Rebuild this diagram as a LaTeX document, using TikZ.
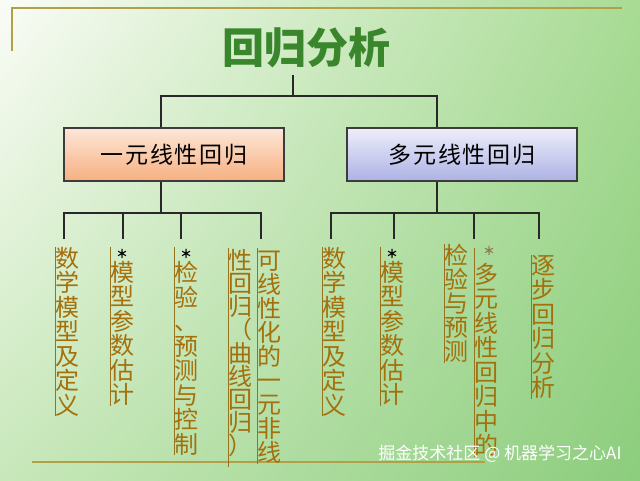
\documentclass[tikz,border=0pt]{standalone}
\usepackage{fontspec}
\usepackage{tikz}
\usetikzlibrary{shadings}
\newfontfamily\cjk{Noto Sans CJK SC}
\newfontfamily\cjkwide[LetterSpace=8]{Noto Sans CJK SC}
\definecolor{bgul}{RGB}{250,252,246}
\definecolor{bgur}{RGB}{168,219,148}
\definecolor{bgll}{RGB}{200,232,186}
\definecolor{bglr}{RGB}{140,205,125}
\definecolor{titlegreen}{RGB}{58,134,44}
\definecolor{treegray}{RGB}{40,40,40}
\definecolor{boxgray}{RGB}{60,60,60}
\definecolor{colgold}{RGB}{165,112,12}
\definecolor{bargold}{RGB}{150,115,30}
\definecolor{rulegold}{RGB}{178,160,72}
\begin{document}
\begin{tikzpicture}[x=1pt,y=-1pt,
    branch/.style={draw=treegray, line width=1.3pt},
    headbox/.style={draw=boxgray, line width=1.1pt, minimum height=53pt,
        font=\cjkwide\fontsize{23}{23}\selectfont},
    vcol/.style={anchor=north west, inner sep=0pt, text width=24pt, align=center,
        text=colgold, font=\cjk\fontsize{24}{24.5}\selectfont},
    vbar/.style={draw=bargold, line width=0.9pt},
    starmark/.style={inner sep=0pt, font=\cjk\bfseries\fontsize{12}{12}\selectfont},
    rule/.style={draw=rulegold, line width=1.6pt}]
    % background
    \useasboundingbox (0,0) rectangle (640,480);
    \shade[upper left=bgul, upper right=bgur, lower left=bgll, lower right=bglr] (0,0) rectangle (640,480);
    \draw[rule] (12,51) -- (12,8) -- (622,8);
    \draw[rule] (32,462) -- (485,462);
    % title and the two kinds
    \node[text=titlegreen, font=\cjk\bfseries\fontsize{42}{42}\selectfont] (title) at (306,48) {回归分析};
    \node[headbox, minimum width=220pt, top color={rgb,255:red,253;green,230;blue,216},
        middle color={rgb,255:red,244;green,160;blue,106}, bottom color={rgb,255:red,246;green,176;blue,128}]
        (uni) at (174,154.5) {一元线性回归};
    \node[headbox, minimum width=230pt, top color={rgb,255:red,238;green,238;blue,250},
        middle color={rgb,255:red,190;green,194;blue,236}, bottom color={rgb,255:red,172;green,178;blue,228}]
        (multi) at (462,154.5) {多元线性回归};
    \coordinate (root) at (293,75);
    \coordinate (bus) at (293,96);
    \coordinate (k1) at (161,0);
    \coordinate (k2) at (437,0);
    \draw[branch] (root) -- (bus);
    \draw[branch] (uni.north -| k1) -- (k1 |- bus) -- (k2 |- bus) -- (multi.north -| k2);
    % leaves of the first kind
    \coordinate (ubus) at (161,213);
    \coordinate (u1) at (64,239);
    \coordinate (u2) at (123,239);
    \coordinate (u3) at (181,239);
    \coordinate (u4) at (261,239);
    \draw[branch] (uni.south -| k1) -- (ubus);
    \draw[branch] (u1) -- (u1 |- ubus) -- (u4 |- ubus) -- (u4);
    \draw[branch] (u2) -- (u2 |- ubus);
    \draw[branch] (u3) -- (u3 |- ubus);
    % leaves of the second kind
    \coordinate (mbus) at (437,213);
    \coordinate (v1) at (331,239);
    \coordinate (v2) at (394,239);
    \coordinate (v3) at (474,239);
    \coordinate (v4) at (539,239);
    \draw[branch] (multi.south -| k2) -- (mbus);
    \draw[branch] (v1) -- (v1 |- mbus) -- (v4 |- mbus) -- (v4);
    \draw[branch] (v2) -- (v2 |- mbus);
    \draw[branch] (v3) -- (v3 |- mbus);
    % columns, first kind
    \node[vcol] (a1) at (55,247) {数\\学\\模\\型\\及\\定\\义};
    \draw[vbar] (a1.north west) -- (a1.south west);
    \node[starmark] (s2) at (122,254) {＊};
    \node[vcol] (a2) at (110,261) {模\\型\\参\\数\\估\\计};
    \draw[vbar] ([yshift=14pt]a2.north west) -- (a2.south west);
    \node[starmark] (s3) at (186,254) {＊};
    \node[vcol] (a3) at (174,261) {检\\验\\、\\预\\测\\与\\控\\制};
    \draw[vbar] ([yshift=14pt]a3.north west) -- (a3.south west);
    \node[vcol, font=\cjk\fontsize{24}{23.2}\selectfont] (a4) at (228,249) {性\\回\\归\\（\\曲\\线\\回\\归\\）};
    \draw[vbar] ([yshift=1pt]a4.north west) -- ([yshift=-10pt]a4.south west);
    \node[vcol, font=\cjk\fontsize{24}{24}\selectfont] (a5) at (257,251) {可\\线\\性\\化\\的\\一\\元\\非\\线};
    \draw[vbar] ([yshift=3pt]a5.north west) -- (a5.south west);
    % columns, second kind
    \node[vcol] (b1) at (322,247) {数\\学\\模\\型\\及\\定\\义};
    \draw[vbar] (b1.north west) -- (b1.south west);
    \node[starmark] (t2) at (392,254) {＊};
    \node[vcol] (b2) at (380,261) {模\\型\\参\\数\\估\\计};
    \draw[vbar] ([yshift=14pt]b2.north west) -- (b2.south west);
    \node[vcol, font=\cjk\fontsize{24}{24}\selectfont] (b3) at (444,244) {检\\验\\与\\预\\测};
    \draw[vbar] (b3.north west) -- (b3.south west);
    \node[starmark, text=gray!60!colgold] (t4) at (489,251) {＊};
    \node[vcol] (b4) at (474,263) {多\\元\\线\\性\\回\\归\\中\\的};
    \draw[vbar] ([yshift=15pt]b4.north west) -- (b4.south west);
    \node[vcol] (b5) at (531,255) {逐\\步\\回\\归\\分\\析};
    \draw[vbar] (b5.north west) -- (b5.south west);
    % watermark
    \node[text=white, font=\cjk\fontsize{17}{17}\selectfont] (mark) at (500,454) {掘金技术社区 @ 机器学习之心AI};
\end{tikzpicture}
\end{document}
